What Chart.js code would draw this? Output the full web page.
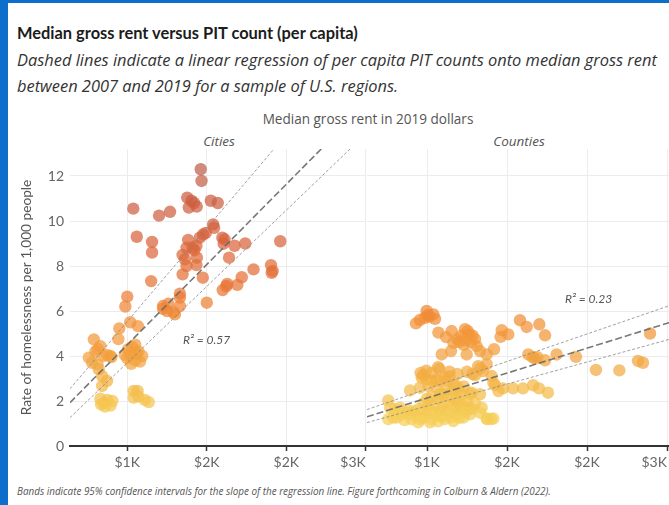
<!DOCTYPE html>
<html>
<head>
<meta charset="utf-8">
<script src="https://cdn.jsdelivr.net/npm/chart.js@4.4.1/dist/chart.umd.min.js"></script>
<style>
  html, body { margin: 0; padding: 0; background: #fff; }
  #wrap { position: relative; width: 669px; height: 505px; overflow: hidden; background: #fff; font-family: "Open Sans", Lato, sans-serif; }
  #wrap .bar-left { position: absolute; left: 0; top: 0; width: 8px; height: 505px; background: #0d6ecb; }
  #wrap .bar-top { position: absolute; left: 0; top: 0; width: 669px; height: 3px; background: #0d6ecb; }
  .t { position: absolute; white-space: nowrap; }
  #title { left: 17px; top: 22px; font-family: Lato, sans-serif; font-size: 16px; line-height: 22px; font-weight: 700; color: #1c1c1c; }
  .sub { left: 17px; font-size: 14.5px; line-height: 26px; font-style: italic; color: #333; }
  #xtitle { left: 368px; top: 111px; transform: translateX(-50%); font-size: 13px; line-height: 16px; color: #555; }
  .facet { top: 133px; transform: translateX(-50%); font-size: 13.5px; line-height: 16px; font-style: italic; color: #555; }
  #caption { left: 17px; top: 485px; font-size: 10px; line-height: 12px; font-style: italic; color: #555; }
  canvas { position: absolute; }
</style>
</head>
<body>
<div id="wrap">
  <div class="t" id="title">Median gross rent versus PIT count (per capita)</div>
  <div class="t sub" id="sub1" style="top:47px">Dashed lines indicate a linear regression of per capita PIT counts onto median gross rent</div>
  <div class="t sub" id="sub2" style="top:73px">between 2007 and 2019 for a sample of U.S. regions.</div>
  <div class="t" id="xtitle">Median gross rent in 2019 dollars</div>
  <div class="t facet" style="left:219px">Cities</div>
  <div class="t facet" style="left:519px">Counties</div>
  <canvas id="cities" width="372" height="346" style="left:0;top:130px"></canvas>
  <canvas id="counties" width="330" height="346" style="left:357px;top:130px"></canvas>
  <div class="t" id="caption">Bands indicate 95% confidence intervals for the slope of the regression line. Figure forthcoming in Colburn &amp; Aldern (2022).</div>
  <div class="bar-left"></div>
  <div class="bar-top"></div>
</div>
<script>
// axis ticks
const xTicks = [1000, 1500, 2000, 2500];
const yTicks = [0, 2, 4, 6, 8, 10, 12];

// cities: median gross rent ($) and PIT count per 1,000 people
const citiesRent = [
  1038,1060,1156,1156,1150,1000,988,1200,1269,1462,
  1467,1377,1404,1420,1387,1437,1525,1569,1540,1546,
  1477,1494,1456,1383,1435,1373,1410,1421,1348,1363,
  1438,1373,1435,1348,1475,1598,1612,1606,1675,1742,
  1640,1962,1794,1720,1692,1629,1623,1600,1904,1914,
  1908,1500,1331,1331,1225,1258,1331,1225,1250,1290,
  1300,950,1019,1067,944,790,831,815,800,758,
  850,873,894,779,813,821,842,873,842,831,
  850,875,906,860,895,835,985,1006,1030,1050,
  1070,1050,1025,1000,1080,1094,1040,1065,1040,1070,
  1110,1135,1060,1020,900
];
const citiesRate = [
  10.55,9.3,9.07,8.6,7.33,6.64,6.2,10.24,10.41,12.3,
  11.78,11.04,10.9,10.8,10.6,10.64,10.9,10.8,9.85,9.7,
  9.4,9.47,9.26,9.16,8.9,8.81,8.81,8.7,8.49,8.3,
  8.37,8.0,8.04,7.63,7.48,9.26,9.18,8.99,8.9,9.0,
  8.37,9.1,7.85,7.5,7.16,7.2,7.1,6.93,8.04,7.78,
  7.7,6.37,6.77,6.6,6.22,6.32,6.22,6.1,6.0,5.95,
  5.85,5.23,5.5,5.33,4.75,4.74,4.44,4.3,4.2,3.93,
  4.0,4.05,4.0,3.7,3.63,3.41,3.11,2.89,2.67,2.1,
  1.9,2.05,2.0,1.75,1.8,1.85,4.05,4.3,4.4,4.5,
  4.2,3.8,3.65,3.9,3.75,4.0,2.45,2.45,2.15,2.2,
  2.05,1.95,4.1,4.05,3.95
];

// counties
const countiesRent = [
  998,1005,1040,1050,956,931,988,1015,1071,1119,
  1154,1238,1255,1190,1215,1265,1285,1300,1240,1200,
  1165,1275,1230,1248,1331,1373,1419,1310,1150,1092,
  1069,1078,1320,1335,1350,1373,1300,1285,1404,1467,
  1460,1508,1581,1623,1702,1738,1633,1660,1675,1690,
  1738,1810,1931,2056,2202,2319,2350,2394,1415,1446,
  1475,1538,1600,1663,1700,1756,
  967,998,1029,1081,1123,1165,1185,1060,1008,956,
  894,1123,1081,1279,1331,758,975,1060,1110,1140,
  1270,1425,1342,1375,1400,960,995,1030,1190,1140,
  1250,1230,1200,1160,1100,1220,
  769,800,831,790,758,810,873,904,936,904,
  960,977,998,1029,1060,1092,1081,1123,1144,1165,
  1185,1206,1185,1227,1258,1269,1331,1373,1415,840,
  860,880,920,950,990,1010,1040,1050,1100,1130,
  1160,1190,1215,1240,1110,1150,1200,1240,1280,1300,
  1070,1020,945,980,1000,1030,1070,1150,1180,1250
];
const countiesRate = [
  6.0,5.82,5.85,5.65,5.6,5.45,5.7,5.75,5.04,4.84,
  5.11,5.19,5.1,4.75,4.9,4.95,4.9,4.75,4.7,4.62,
  4.58,4.6,4.5,4.07,4.22,4.07,4.3,4.44,4.22,4.07,
  3.5,3.42,3.55,3.45,3.33,3.64,3.15,3.2,3.11,5.15,
  4.85,4.96,5.59,5.29,5.41,4.92,4.07,3.95,3.88,3.95,
  3.81,4.07,3.96,3.38,3.36,3.78,3.7,5.0,2.81,2.44,
  2.56,2.56,2.56,2.7,2.56,2.37,
  3.04,2.96,2.89,2.89,2.92,2.74,2.67,2.59,2.67,2.59,
  2.47,2.52,2.3,2.37,2.3,2.03,3.15,2.95,3.05,3.1,
  2.31,2.71,1.7,1.2,1.2,3.25,3.35,3.25,3.2,3.3,
  3.3,2.65,2.5,2.45,2.3,2.3,
  1.70,1.63,1.70,1.26,1.19,1.26,1.48,1.41,1.33,1.19,
  1.19,1.26,1.41,1.19,1.33,1.33,1.56,1.56,1.26,1.11,
  1.41,1.56,1.70,1.26,1.63,1.41,1.48,1.22,1.22,1.4,
  1.15,1.6,1.55,1.65,1.6,1.75,1.5,1.8,1.8,1.9,
  1.75,1.95,1.85,1.75,1.2,1.5,1.25,1.5,1.65,1.9,
  1.1,1.05,1.05,1.9,2.1,2.2,2.1,2.2,2.1,2.0
];

// regression lines (fit, upper and lower band), values at the panel edges
const citiesLineX = [640, 2500];
const citiesFit = [1.93, 15.2];
const citiesHi = [2.54, 18.0];
const citiesLo = [1.26, 13.87];
const countiesLineX = [625, 2525];
const countiesFit = [1.30, 5.51];
const countiesHi = [1.62, 6.26];
const countiesLo = [1.04, 4.76];

// color by rate, yellow -> brick red
const colorStops = [
  [0, [247, 214, 96]], [1.5, [245, 204, 86]], [2.5, [244, 186, 72]], [4, [243, 160, 62]],
  [5.5, [242, 144, 54]], [7, [233, 118, 54]], [9, [217, 100, 60]], [11, [203, 94, 66]], [12.5, [188, 94, 76]]
];
function rateColor(v) {
  let c = colorStops[colorStops.length - 1][1];
  for (let i = 0; i < colorStops.length - 1; i++) {
    const a = colorStops[i], b = colorStops[i + 1];
    if (v <= b[0]) {
      const t = Math.max(0, (v - a[0]) / (b[0] - a[0]));
      c = a[1].map((q, k) => Math.round(q + (b[1][k] - q) * t));
      break;
    }
  }
  return 'rgba(' + c.join(',') + ',0.72)';
}

// stretch a text block to the width it has in the picture
function fitText(id, target, others) {
  const el = document.getElementById(id);
  const w = el.getBoundingClientRect().width;
  const fs = parseFloat(getComputedStyle(el).fontSize) * target / w;
  el.style.fontSize = fs + 'px';
  (others || []).forEach(o => { document.getElementById(o).style.fontSize = fs + 'px'; });
}
fitText('title', 341);
fitText('sub1', 640, ['sub2']);
fitText('xtitle', 211);
fitText('caption', 535);

const fmtK = v => '$' + Math.round(v / 1000) + 'K';

const r2Label = {
  id: 'r2Label',
  afterDatasetsDraw(chart, args, opts) {
    const ctx = chart.ctx;
    ctx.save();
    ctx.font = 'italic 12px Lato';
    ctx.fillStyle = '#555';
    ctx.textAlign = 'left';
    ctx.textBaseline = 'middle';
    ctx.fillText(opts.text, chart.scales.x.getPixelForValue(opts.x), chart.scales.y.getPixelForValue(opts.y));
    ctx.restore();
  }
};

function pts(xs, ys) { return xs.map((x, i) => ({x: x, y: ys[i]})); }

function lineSet(xs, ys, main) {
  return {
    data: pts(xs, ys), showLine: true, pointRadius: 0, order: 0, clip: 0,
    borderColor: main ? 'rgba(105,105,105,0.9)' : 'rgba(130,130,130,0.85)',
    borderWidth: main ? 1.6 : 0.9,
    borderDash: main ? [7, 3] : [3, 2]
  };
}

function makeChart(id, opt) {
  const xmin = opt.xmin;
  const gridCol = c => (c.tick && c.tick.value === xmin) ? 'rgba(0,0,0,0)' : '#ececec';
  const tickCol = c => (c.tick && c.tick.value === xmin) ? 'rgba(0,0,0,0)' : '#333';
  return new Chart(document.getElementById(id), {
    type: 'scatter',
    data: {
      datasets: [
        lineSet(opt.lineX, opt.fit, true),
        lineSet(opt.lineX, opt.hi, false),
        lineSet(opt.lineX, opt.lo, false),
        {
          data: pts(opt.rent, opt.rate), order: 1,
          pointRadius: 6.2, pointHoverRadius: 6.2, borderWidth: 0,
          backgroundColor: c => rateColor(c.raw ? c.raw.y : 0)
        }
      ]
    },
    options: {
      responsive: false,
      animation: false,
      layout: { padding: opt.padding },
      plugins: { legend: { display: false }, tooltip: { enabled: false }, r2Label: opt.r2 },
      scales: {
        x: {
          type: 'linear', min: xmin, max: opt.xmax,
          afterBuildTicks: s => { s.ticks = [xmin].concat(xTicks).map(v => ({value: v})); },
          afterFit: s => { s.height = 30; },
          ticks: {
            align: 'inner', autoSkip: false, maxRotation: 0, padding: 3, color: '#666',
            font: { family: 'Lato', size: 14 },
            callback: v => v === xmin ? '' : fmtK(v)
          },
          grid: { color: gridCol, tickColor: tickCol, tickLength: 5, tickWidth: 1.5 },
          border: { display: true, color: '#333', width: 2 }
        },
        y: {
          type: 'linear', min: 0, max: 13.2,
          afterBuildTicks: s => { s.ticks = yTicks.map(v => ({value: v})); },
          afterFit: s => { s.width = opt.yWidth; },
          ticks: { display: opt.showY, padding: 6, color: '#666', font: { family: 'Lato', size: 14 } },
          grid: { drawTicks: false, color: '#ececec' },
          border: { display: false },
          title: {
            display: opt.showY, text: 'Rate of homelessness per 1,000 people', color: '#555',
            font: { family: 'Lato', size: 13.7 }, padding: { top: 18, bottom: 0 }
          }
        }
      }
    },
    plugins: [r2Label]
  });
}

makeChart('cities', {
  xmin: 640, xmax: 2500, rent: citiesRent, rate: citiesRate,
  lineX: citiesLineX, fit: citiesFit, hi: citiesHi, lo: citiesLo,
  padding: { left: 0, right: 5, top: 19, bottom: 0 }, yWidth: 70, showY: true,
  r2: { text: 'R² = 0.57', x: 1350, y: 4.7 }
});

makeChart('counties', {
  xmin: 625, xmax: 2525, rent: countiesRent, rate: countiesRate,
  lineX: countiesLineX, fit: countiesFit, hi: countiesHi, lo: countiesLo,
  padding: { left: 10, right: 16, top: 19, bottom: 0 }, yWidth: 0, showY: false,
  r2: { text: 'R² = 0.23', x: 1862, y: 6.53 }
});
</script>
</body>
</html>
